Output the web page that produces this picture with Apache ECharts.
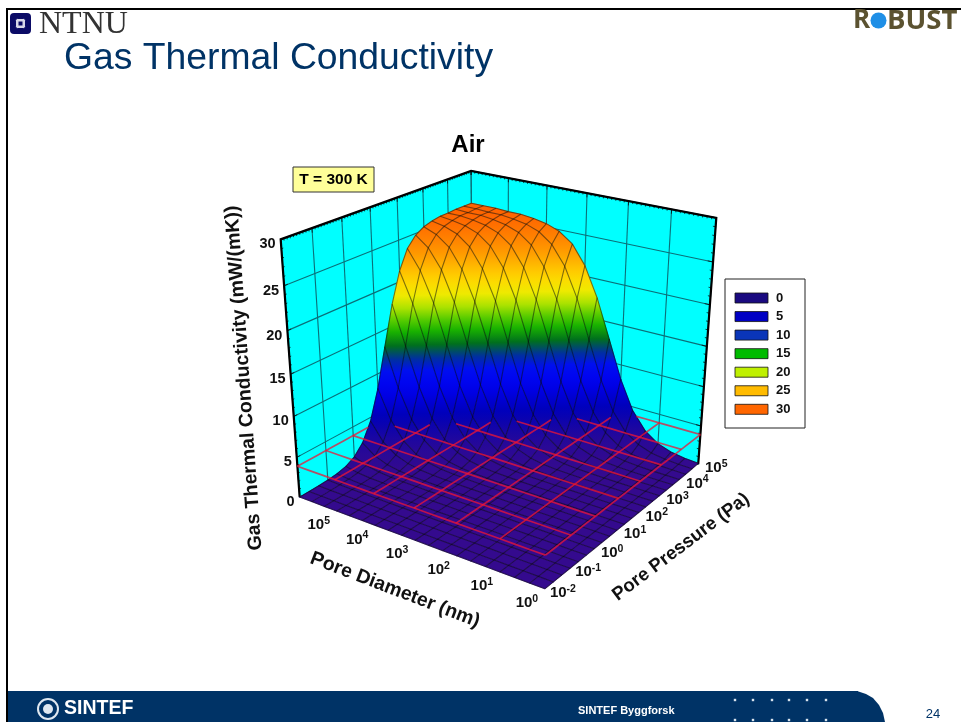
<!DOCTYPE html>
<html><head><meta charset="utf-8">
<style>html,body{margin:0;padding:0;background:#fff}#c{width:961px;height:722px}</style>
<script src="https://cdn.jsdelivr.net/npm/echarts@6/dist/echarts.min.js"></script>
</head><body><div id="c"></div>
<script>
// ---------- data ----------
const diameterExp = [0,0.33,0.67,1,1.33,1.67,2,2.33,2.67,3,3.33,3.67,4,4.33,4.67,5,5.33,5.67,6];
const pressureExp = [-2,-1.67,-1.33,-1,-0.67,-0.33,0,0.33,0.67,1,1.33,1.67,2,2.33,2.67,3,3.33,3.67,4,4.33,4.67,5];
const conductivity = [
 [0,0,0,0,0,0,0,0,0,0,0,0,0,0,0,0,0,0.01,0.01,0.03,0.06,0.12],
 [0,0,0,0,0,0,0,0,0,0,0,0,0,0,0,0,0.01,0.01,0.03,0.06,0.12,0.25],
 [0,0,0,0,0,0,0,0,0,0,0,0,0,0,0,0.01,0.01,0.03,0.06,0.12,0.25,0.54],
 [0,0,0,0,0,0,0,0,0,0,0,0,0,0,0.01,0.01,0.03,0.06,0.12,0.25,0.54,1.14],
 [0,0,0,0,0,0,0,0,0,0,0,0,0,0.01,0.01,0.03,0.06,0.12,0.25,0.54,1.14,2.33],
 [0,0,0,0,0,0,0,0,0,0,0,0,0.01,0.01,0.03,0.06,0.12,0.25,0.54,1.14,2.33,4.55],
 [0,0,0,0,0,0,0,0,0,0,0,0.01,0.01,0.03,0.06,0.12,0.25,0.54,1.14,2.33,4.55,8.15],
 [0,0,0,0,0,0,0,0,0,0,0.01,0.01,0.03,0.06,0.12,0.25,0.54,1.14,2.33,4.55,8.15,12.9],
 [0,0,0,0,0,0,0,0,0,0.01,0.01,0.03,0.06,0.12,0.25,0.54,1.14,2.33,4.55,8.15,12.9,17.7],
 [0,0,0,0,0,0,0,0,0.01,0.01,0.03,0.06,0.12,0.25,0.54,1.14,2.33,4.55,8.15,12.9,17.7,21.3],
 [0,0,0,0,0,0,0,0.01,0.01,0.03,0.06,0.12,0.25,0.54,1.14,2.33,4.55,8.15,12.9,17.7,21.3,23.6],
 [0,0,0,0,0,0,0.01,0.01,0.03,0.06,0.12,0.25,0.54,1.14,2.33,4.55,8.15,12.9,17.7,21.3,23.6,24.8],
 [0,0,0,0,0,0.01,0.01,0.03,0.06,0.12,0.25,0.54,1.14,2.33,4.55,8.15,12.9,17.7,21.3,23.6,24.8,25.4],
 [0,0,0,0,0.01,0.01,0.03,0.06,0.12,0.25,0.54,1.14,2.33,4.55,8.15,12.9,17.7,21.3,23.6,24.8,25.4,25.7],
 [0,0,0,0.01,0.01,0.03,0.06,0.12,0.25,0.54,1.14,2.33,4.55,8.15,12.9,17.7,21.3,23.6,24.8,25.4,25.7,25.9],
 [0,0,0.01,0.01,0.03,0.06,0.12,0.25,0.54,1.14,2.33,4.55,8.15,12.9,17.7,21.3,23.6,24.8,25.4,25.7,25.9,25.9],
 [0,0.01,0.01,0.03,0.06,0.12,0.25,0.54,1.14,2.33,4.55,8.15,12.9,17.7,21.3,23.6,24.8,25.4,25.7,25.9,25.9,26],
 [0.01,0.01,0.03,0.06,0.12,0.25,0.54,1.14,2.33,4.55,8.15,12.9,17.7,21.3,23.6,24.8,25.4,25.7,25.9,25.9,26,26],
 [0.01,0.03,0.06,0.12,0.25,0.54,1.14,2.33,4.55,8.15,12.9,17.7,21.3,23.6,24.8,25.4,25.7,25.9,25.9,26,26,26]
];
const zTicks = [0,5,10,15,20,25,30];
const diameterTicks = [0,1,2,3,4,5,6];
const pressureTicks = [-2,-1,0,1,2,3,4,5];
const diameterLabels = [0,1,2,3,4,5];
const pressureLabels = [-2,-1,0,1,2,3,4,5];
const legendLevels = [0,5,10,15,20,25,30];
const legendColors = ['#1a0a80','#0000c4','#0a35b8','#00bb00','#bff000','#ffbb00','#ff6600'];
const colorStops = [[0,'#340a8e'],[2,'#24089a'],[5,'#0000b8'],[8,'#0000f0'],[10.3,'#0010f0'],[11.8,'#003c80'],[12.8,'#006a20'],[14,'#00a800'],[16,'#60d000'],[18,'#e8f000'],[20,'#ffd800'],[23,'#ff9800'],[26,'#ff6400']];

// ---------- camera fitted to the box corners seen in the picture ----------
const redLevel=3.9;
const calib = [
 [0,-2,0,545,590],[6,-2,0,300,498],[0,5,0,699,463],[6,-2,30,281,240],[0,5,30,716,217],[6,5,30,471,171],
 [6,-2,15,290,373],[0,5,15,708,348],
 [0,-2,redLevel,545,555],[6,-2,redLevel,297,466],[0,5,redLevel,699,435],[1,-2,redLevel,500,538],[3,-2,redLevel,415,508],[0,1,redLevel,618,498]
];
function norm(d,p,k){return [d/6,(p+2)/7,k/30];}
function fitCamera(){
 const n=11,A=[...Array(n)].map(()=>Array(n+1).fill(0));
 const add=(r,b)=>{for(let i=0;i<n;i++){for(let j=0;j<n;j++)A[i][j]+=r[i]*r[j];A[i][n]+=r[i]*b;}};
 calib.forEach(c=>{const [X,Y,Z]=norm(c[0],c[1],c[2]),u=c[3],v=c[4];
  add([X,Y,Z,1,0,0,0,0,-u*X,-u*Y,-u*Z],u);add([0,0,0,0,X,Y,Z,1,-v*X,-v*Y,-v*Z],v);});
 for(let i=0;i<n;i++){A[i][i]+=1e-9;let m=i;for(let r=i+1;r<n;r++)if(Math.abs(A[r][i])>Math.abs(A[m][i]))m=r;
  [A[i],A[m]]=[A[m],A[i]];for(let r=0;r<n;r++){if(r===i)continue;const f=A[r][i]/A[i][i];for(let c=i;c<=n;c++)A[r][c]-=f*A[i][c];}}
 return A.map((row,i)=>row[n]/row[i]);
}
const cam=fitCamera();
function project(d,p,k){const [X,Y,Z]=norm(d,p,k),w=cam[8]*X+cam[9]*Y+cam[10]*Z+1;
 return [(cam[0]*X+cam[1]*Y+cam[2]*Z+cam[3])/w,(cam[4]*X+cam[5]*Y+cam[6]*Z+cam[7])/w];}

function hex(c){return [1,3,5].map(i=>parseInt(c.substr(i,2),16));}
function colorAt(k){for(let i=1;i<colorStops.length;i++){if(k<=colorStops[i][0]){const a=colorStops[i-1],b=colorStops[i],t=(k-a[0])/(b[0]-a[0]);
  const x=hex(a[1]),y=hex(b[1]);return 'rgb('+x.map((v,j)=>Math.round(v+(y[j]-v)*Math.max(0,t))).join(',')+')';}}
 return colorStops[colorStops.length-1][1];}

const dMax=diameterTicks[diameterTicks.length-1],dMin=diameterTicks[0],pMax=pressureTicks[pressureTicks.length-1],pMin=pressureTicks[0],zMax=30;
const poly=(pts,style,z2)=>({type:'polyline',shape:{points:pts},style:Object.assign({fill:null},style),z2:z2||0,silent:true});

// ---------- walls ----------
function renderWalls(params,api){
 const P=(d,p,k)=>api.coord(project(d,p,k));const ch=[];
 ch.push({type:'polygon',shape:{points:[P(dMax,pMin,0),P(dMax,pMin,zMax),P(dMax,pMax,zMax),P(dMax,pMax,0)]},style:{fill:'#00ffff'},silent:true});
 ch.push({type:'polygon',shape:{points:[P(dMax,pMax,0),P(dMax,pMax,zMax),P(dMin,pMax,zMax),P(dMin,pMax,0)]},style:{fill:'#00ffff'},silent:true});
 const grid={stroke:'#0b6f78',lineWidth:1.1};
 pressureTicks.forEach(p=>ch.push(poly([P(dMax,p,0),P(dMax,p,zMax)],grid)));
 diameterTicks.forEach(d=>ch.push(poly([P(d,pMax,0),P(d,pMax,zMax)],grid)));
 zTicks.forEach(z=>{ch.push(poly([P(dMax,pMin,z),P(dMax,pMax,z)],grid));ch.push(poly([P(dMax,pMax,z),P(dMin,pMax,z)],grid));});
 const tick={stroke:'#000',lineWidth:0.7};
 for(let i=0;i<=70;i++){const p=pMin+i/10;ch.push(poly([P(dMax,p,zMax),P(dMax,p,zMax-(i%10?0.25:0.5))],tick));}
 for(let i=0;i<=60;i++){const d=dMin+i/10;ch.push(poly([P(d,pMax,zMax),P(d,pMax,zMax-(i%10?0.25:0.5))],tick));}
 for(let i=0;i<=30;i++){ch.push(poly([P(dMax,pMin,i),P(dMax,pMin+(i%5?0.06:0.12),i)],tick));ch.push(poly([P(dMin,pMax,i),P(dMin+(i%5?0.06:0.12),pMax,i)],tick));}
 const edge={stroke:'#000',lineWidth:2.2};
 ch.push(poly([P(dMax,pMin,0),P(dMax,pMin,zMax),P(dMax,pMax,zMax),P(dMin,pMax,zMax),P(dMin,pMax,0)],edge));
 return {type:'group',children:ch,silent:true};
}
// ---------- surface cells, back to front ----------
const cells=[];
for(let i=diameterExp.length-2;i>=0;i--)for(let j=pressureExp.length-2;j>=0;j--)cells.push([i,j]);
function renderCell(params,api){
 const i=api.value(0),j=api.value(1);
 const v=[[i,j],[i+1,j],[i+1,j+1],[i,j+1]].map(a=>({k:conductivity[a[0]][a[1]],p:api.coord(project(diameterExp[a[0]],pressureExp[a[1]],conductivity[a[0]][a[1]]))}));
 const ks=v.map(o=>o.k),ys=v.map(o=>o.p[1]);
 const kHi=Math.max(...ks),kLo=Math.min(...ks),yTop=ys[ks.indexOf(kHi)],yBot=ys[ks.indexOf(kLo)];
 let stops=[];for(let t=0;t<=6;t++)stops.push({offset:t/6,color:colorAt(kHi+(kLo-kHi)*t/6)});
 const grad=Math.abs(yBot-yTop)<0.5?stops[3].color:new echarts.graphic.LinearGradient(0,yTop,0,yBot,stops,true);
 return {type:'polygon',shape:{points:v.map(o=>o.p)},style:{fill:grad,stroke:grad,lineWidth:0.8},silent:true};
}
// ---------- black mesh on the surface ----------
const meshLines=[];
diameterExp.forEach((d,i)=>meshLines.push([0,i]));
pressureExp.forEach((p,j)=>meshLines.push([1,j]));
function renderMesh(params,api){
 const kind=api.value(0),n=api.value(1);let pts;
 if(kind===0)pts=pressureExp.map((p,j)=>api.coord(project(diameterExp[n],p,conductivity[n][j])));
 else pts=diameterExp.map((d,i)=>api.coord(project(d,pressureExp[n],conductivity[i][n])));
 return poly(pts,{stroke:'rgba(10,10,10,0.5)',lineWidth:1.1});
}
// ---------- red plane, visible only where the surface is below it ----------
const redLines=[];
diameterTicks.forEach(d=>redLines.push([0,d]));
pressureTicks.forEach(p=>redLines.push([1,p]));
function renderRed(params,api){
 const kind=api.value(0),n=api.value(1),pts=[];
 const line=kind===0?pressureExp.map((p,j)=>[n,p,conductivity[diameterExp.indexOf(n)][j]]):diameterExp.map((d,i)=>[d,n,conductivity[i][pressureExp.indexOf(n)]]);
 for(let q=0;q<line.length;q++){const a=line[q];
  if(a[2]<=redLevel){pts.push(api.coord(project(a[0],a[1],redLevel)));}
  if(q+1<line.length){const b=line[q+1];
   if((a[2]-redLevel)*(b[2]-redLevel)<0){const t=(redLevel-a[2])/(b[2]-a[2]);pts.push(api.coord(project(a[0]+(b[0]-a[0])*t,a[1]+(b[1]-a[1])*t,redLevel)));}}
 }
 return poly(pts,{stroke:'rgba(238,22,52,0.75)',lineWidth:1.7});
}
// ---------- text labels on the axes ----------
const rich={b:{font:'bold 15px "Liberation Sans"',fill:'#111',lineHeight:16},s:{font:'bold 10.5px "Liberation Sans"',fill:'#111',verticalAlign:'top',padding:[0,0,8,0]}};
const axisLabels=[];
zTicks.forEach(z=>axisLabels.push(['z',z]));
diameterLabels.forEach(d=>axisLabels.push(['d',d]));
pressureLabels.forEach(p=>axisLabels.push(['p',p]));
function renderAxisLabel(params,api){
 const item=axisLabels[params.dataIndex];let a,ox,oy;
 if(item[0]==='z'){a=api.coord(project(dMax,pMin,item[1]));
  return {type:'text',x:a[0]-5,y:a[1]+5,style:{text:String(item[1]),font:'bold 14.5px "Liberation Sans"',fill:'#111',align:'right',verticalAlign:'middle'},silent:true};}
 if(item[0]==='d'){a=api.coord(project(item[1],pMin,0));ox=-18;oy=14;}
 else{a=api.coord(project(dMin,item[1],0));ox=18;oy=4;}
 return {type:'text',x:a[0]+ox,y:a[1]+oy,style:{text:'{b|10}{s|'+item[1]+'}',rich,align:'center',verticalAlign:'middle'},silent:true};
}
const deg=Math.PI/180;
const dotX=[735,753,772,789,807,826],dotY=[700,720];
const dots=[];dotY.forEach(y=>dotX.forEach(x=>dots.push({type:'rect',shape:{x:x-1.2,y:y-1.2,width:2.4,height:2.4},style:{fill:'#d8e4ee'},silent:true})));
const legendItems=[];legendLevels.forEach((lv,i)=>{const y=298+i*18.55;
 legendItems.push({type:'rect',shape:{x:735,y:y-5,width:33,height:10},style:{fill:legendColors[i],stroke:'#111',lineWidth:0.8},silent:true});
 legendItems.push({type:'text',x:776,y:y,style:{text:String(lv),font:'bold 13px "Liberation Sans"',fill:'#111',verticalAlign:'middle'},silent:true});});

const option={
 animation:false,
 title:{text:'Air',left:463,top:128,textAlign:'center',textStyle:{fontFamily:'Liberation Sans',fontWeight:'bold',fontSize:24,color:'#000'}},
 grid:{left:0,right:0,top:0,bottom:0,show:false},
 xAxis:{type:'value',min:0,max:961,show:false},
 yAxis:{type:'value',min:0,max:722,inverse:true,show:false},
 tooltip:{show:false},
 series:[
  {type:'custom',coordinateSystem:'cartesian2d',data:[[0,0]],renderItem:renderWalls,clip:false,silent:true,z:2,animation:false,encode:{x:0,y:1}},
  {type:'custom',coordinateSystem:'cartesian2d',data:cells,renderItem:renderCell,clip:false,silent:true,z:3,progressive:0,animation:false,encode:{x:0,y:1}},
  {type:'custom',coordinateSystem:'cartesian2d',data:meshLines,renderItem:renderMesh,clip:false,silent:true,z:4,progressive:0,animation:false,encode:{x:0,y:1}},
  {type:'custom',coordinateSystem:'cartesian2d',data:redLines,renderItem:renderRed,clip:false,silent:true,z:5,progressive:0,animation:false,encode:{x:0,y:1}},
  {type:'custom',coordinateSystem:'cartesian2d',data:axisLabels.map((a,i)=>[i,0]),renderItem:renderAxisLabel,clip:false,silent:true,z:6,progressive:0,animation:false,encode:{x:0,y:1}}
 ],
 graphic:{elements:[
  {type:'rect',shape:{x:7,y:8,width:954,height:2},style:{fill:'#000'},silent:true},
  {type:'rect',shape:{x:6,y:8,width:2,height:714},style:{fill:'#000'},silent:true},
  {type:'rect',shape:{x:10,y:13,width:21,height:21,r:4},style:{fill:'#0b0b66'},silent:true},
  {type:'rect',shape:{x:15.5,y:18.5,width:10,height:10,r:2},style:{fill:'#d8d8e8',stroke:'#0b0b66',lineWidth:1},silent:true},
  {type:'rect',shape:{x:18.5,y:21.5,width:4,height:4},style:{fill:'#0b0b66'},silent:true},
  {type:'text',x:39,y:25,style:{text:'NTNU',font:'32px "Liberation Serif"',fill:'#333',verticalAlign:'middle'},silent:true},
  {type:'text',x:64,y:59,style:{text:'Gas Thermal Conductivity',font:'37.3px "Liberation Sans"',fill:'#003366',verticalAlign:'middle'},silent:true},
  {type:'text',x:853,y:21,style:{text:'R',font:'bold 26px "Open Sans"',fill:'#5b5230',verticalAlign:'middle'},silent:true},
  {type:'circle',shape:{cx:878.5,cy:20.5,r:8},style:{fill:'#1f8fe6'},silent:true},
  {type:'text',x:887,y:21,style:{text:'BUST',font:'bold 27.5px "Open Sans"',fill:'#5b5230',verticalAlign:'middle'},silent:true},
  {type:'rect',shape:{x:293,y:167,width:81,height:25},style:{fill:'#ffff99',stroke:'#333',lineWidth:1},silent:true},
  {type:'text',x:333.5,y:180,style:{text:'T = 300 K',font:'bold 15.5px "Liberation Sans"',fill:'#000',align:'center',verticalAlign:'middle'},silent:true},
  {type:'text',x:244,y:378,rotation:94*deg,style:{text:'Gas Thermal Conductivity (mW/(mK))',font:'bold 19.5px "Liberation Sans"',fill:'#111',align:'center',verticalAlign:'middle'},silent:true},
  {type:'text',x:395,y:590,rotation:-21*deg,style:{text:'Pore Diameter (nm)',font:'bold 19.5px "Liberation Sans"',fill:'#111',align:'center',verticalAlign:'middle'},silent:true},
  {type:'text',x:681,y:547,rotation:37*deg,style:{text:'Pore Pressure (Pa)',font:'bold 18.6px "Liberation Sans"',fill:'#111',align:'center',verticalAlign:'middle'},silent:true},
  {type:'rect',shape:{x:725,y:279,width:80,height:149},style:{fill:'#fff',stroke:'#222',lineWidth:1},silent:true},
  ...legendItems,
  {type:'rect',shape:{x:8,y:691,width:850,height:31},style:{fill:'#003366'},silent:true},
  {type:'polygon',shape:{points:[[857,691],[866,694],[873,698],[879,705],[883,713],[885,722],[857,722]]},style:{fill:'#003366'},silent:true},
  {type:'circle',shape:{cx:48,cy:709,r:10},style:{fill:'none',stroke:'#dfe8f0',lineWidth:2},silent:true},
  {type:'circle',shape:{cx:48,cy:709,r:5},style:{fill:'#dfe8f0'},silent:true},
  {type:'text',x:64,y:709,style:{text:'SINTEF',font:'bold 19.5px "Liberation Sans"',fill:'#fff',verticalAlign:'middle'},silent:true},
  {type:'text',x:578,y:711,style:{text:'SINTEF Byggforsk',font:'bold 11px "Liberation Sans"',fill:'#fff',verticalAlign:'middle'},silent:true},
  ...dots,
  {type:'text',x:933,y:714,style:{text:'24',font:'13px "Liberation Sans"',fill:'#003366',align:'center',verticalAlign:'middle'},silent:true}
 ]}
};
const chart=echarts.init(document.getElementById('c'),null,{renderer:'canvas'});
chart.setOption(option);
</script></body></html>
